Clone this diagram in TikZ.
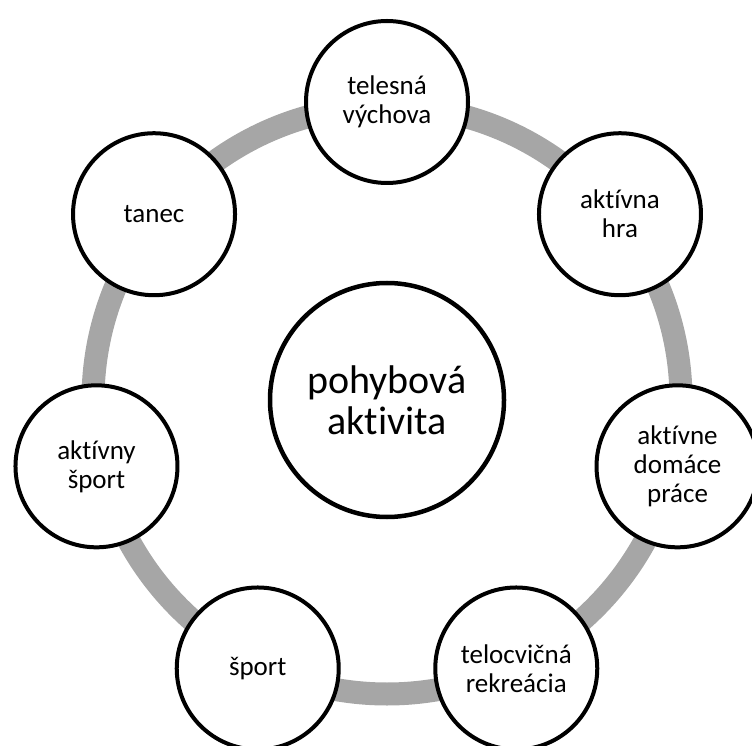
\documentclass[tikz,border=0pt]{standalone}
\usepackage{fontspec}
\setmainfont{Carlito}[Ligatures=NoCommon]
\usetikzlibrary{calc}
\definecolor{ringgray}{HTML}{A6A6A6}
\begin{document}
\begin{tikzpicture}[x=1pt,y=1pt,
  item/.style={circle, draw=black, line width=4pt, fill=white, minimum size=162pt, inner sep=0pt, align=center, font=\fontsize{27}{29}\selectfont},
  hub/.style={circle, draw=black, line width=4.5pt, fill=white, minimum size=234pt, inner sep=0pt, align=center, font=\fontsize{40}{41}\selectfont},
  ringline/.style={draw=ringgray, line width=23pt}]
\useasboundingbox (0,0) rectangle (752,745);
\coordinate (c) at (387,345);
\draw[ringline] (c) circle[radius=294];
\node[hub] (hub) at (c) {pohybová\\aktivita};
\node[item] (n1) at ($(c)+(90:298)$) {telesná\\výchova};
\node[item] (n2) at ($(c)+(38.57:298)$) {aktívna\\hra};
\node[item] (n3) at ($(c)+(-12.86:298)$) {aktívne\\domáce\\práce};
\node[item] (n4) at ($(c)+(-64.29:298)$) {telocvičná\\rekreácia};
\node[item] (n5) at ($(c)+(-115.71:298)$) {šport};
\node[item] (n6) at ($(c)+(-167.14:298)$) {aktívny\\šport};
\node[item] (n7) at ($(c)+(141.43:298)$) {tanec};
\end{tikzpicture}
\end{document}
